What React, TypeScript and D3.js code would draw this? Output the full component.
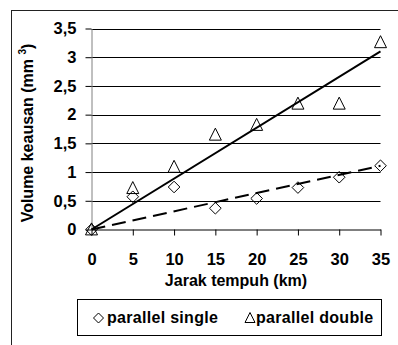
import React, { useRef, useEffect } from 'react';
import * as d3 from 'd3';

const distance = [0, 5, 10, 15, 20, 25, 30, 35];
const single = [0, 0.57, 0.74, 0.37, 0.54, 0.73, 0.91, 1.11];
const double = [0, 0.72, 1.09, 1.65, 1.82, 2.19, 2.19, 3.26];
const yTicks = [0, 0.5, 1, 1.5, 2, 2.5, 3, 3.5];
const xTicks = [0, 5, 10, 15, 20, 25, 30, 35];
const seriesNames = ['parallel single', 'parallel double'];

const FONT = '"Liberation Sans", Arial, sans-serif';

// linear trend forced through the origin, as Excel does with intercept 0
const slopeThroughOrigin = (xs: number[], ys: number[]) =>
    d3.sum(xs, (x, i) => x * ys[i]) / d3.sum(xs, x => x * x);

const App: React.FC = () => {
    const svgRef = useRef<SVGSVGElement | null>(null);

    useEffect(() => {
        const svg = d3.select(svgRef.current);
        svg.selectAll('*').remove();

        const x = d3.scaleLinear().domain([0, 35]).range([91.5, 380.5]);
        const y = d3.scaleLinear().domain([0, 3.5]).range([229.5, 28.5]);

        // outer chart frame (runs off the picture right and bottom)
        svg.append('rect')
            .attr('x', 11.5).attr('y', 10.5)
            .attr('width', 420).attr('height', 420)
            .attr('fill', 'white').attr('stroke', '#222').attr('stroke-width', 1);

        // gridlines
        svg.append('g')
            .selectAll('line')
            .data(yTicks.filter(d => d > 0))
            .join('line')
            .attr('x1', x(0)).attr('x2', x(35))
            .attr('y1', d => Math.round(y(d)) + 0.5).attr('y2', d => Math.round(y(d)) + 0.5)
            .attr('stroke', 'black');

        const fmt = (d: d3.NumberValue) => String(d).replace('.', ',');

        const yAxis = svg.append('g')
            .attr('transform', `translate(${x(0)},0)`)
            .call(d3.axisLeft(y).tickValues(yTicks).tickSize(6).tickPadding(9).tickFormat(fmt).tickSizeOuter(0));
        yAxis.select('.domain').attr('stroke', '#808080');
        yAxis.selectAll('.tick line').attr('stroke', 'black');

        const xAxis = svg.append('g')
            .attr('transform', `translate(0,${y(0)})`)
            .call(d3.axisBottom(x).tickValues(xTicks).tickSize(6).tickPadding(18).tickFormat(fmt).tickSizeOuter(0));
        xAxis.select('.domain').attr('stroke', 'black');

        svg.selectAll('.tick text')
            .attr('font-family', FONT).attr('font-size', 16.5).attr('font-weight', 'bold').attr('fill', 'black');

        // trend lines
        const sSingle = slopeThroughOrigin(distance, single);
        const sDouble = slopeThroughOrigin(distance, double);
        svg.append('line')
            .attr('x1', x(0)).attr('y1', y(0)).attr('x2', x(35)).attr('y2', y(35 * sDouble))
            .attr('stroke', 'black').attr('stroke-width', 2);
        svg.append('line')
            .attr('x1', x(0)).attr('y1', y(0)).attr('x2', x(35)).attr('y2', y(35 * sSingle))
            .attr('stroke', 'black').attr('stroke-width', 2).attr('stroke-dasharray', '14,7');

        const diamond = (cx: number, cy: number, r: number) =>
            `M${cx},${cy - r}L${cx + r},${cy}L${cx},${cy + r}L${cx - r},${cy}Z`;
        const triangle = (cx: number, cy: number, r: number) =>
            `M${cx},${cy - r * 1.1}L${cx + r},${cy + r * 0.9}L${cx - r},${cy + r * 0.9}Z`;

        svg.append('g')
            .selectAll('path')
            .data(distance)
            .join('path')
            .attr('d', (d, i) => triangle(x(d), y(double[i]), 6))
            .attr('fill', 'none').attr('stroke', 'black');

        svg.append('g')
            .selectAll('path')
            .data(distance)
            .join('path')
            .attr('d', (d, i) => diamond(x(d), y(single[i]), 5.8))
            .attr('fill', 'none').attr('stroke', 'black');

        // axis titles
        svg.append('text')
            .attr('x', (x(0) + x(35)) / 2).attr('y', 286)
            .attr('text-anchor', 'middle')
            .attr('font-family', FONT).attr('font-size', 16).attr('font-weight', 'bold')
            .text('Jarak tempuh (km)');

        const yt = svg.append('text')
            .attr('transform', 'translate(33,133) rotate(-90)')
            .attr('text-anchor', 'middle')
            .attr('font-family', FONT).attr('font-size', 16).attr('font-weight', 'bold');
        yt.append('tspan').text('Volume keausan (mm ');
        yt.append('tspan').attr('font-size', 10).attr('dy', -7).text('3');
        yt.append('tspan').attr('dy', 7).text(')');

        // legend
        const lg = svg.append('g');
        lg.append('rect')
            .attr('x', 77.5).attr('y', 299.5).attr('width', 304).attr('height', 36)
            .attr('fill', 'white').attr('stroke', 'black');
        const items = [
            { name: seriesNames[0], tx: 107, shape: diamond(98.5, 318, 5) },
            { name: seriesNames[1], tx: 256, shape: triangle(250, 318, 5) },
        ];
        items.forEach(it => {
            lg.append('path').attr('d', it.shape).attr('fill', 'none').attr('stroke', 'black');
            lg.append('text')
                .attr('x', it.tx).attr('y', 323)
                .attr('font-family', FONT).attr('font-size', 16).attr('font-weight', 'bold')
                .attr('letter-spacing', 0.3)
                .text(it.name);
        });
    }, []);

    return (
        <svg
            ref={svgRef}
            width={398}
            height={345}
            style={{ position: 'absolute', left: 0, top: 0, background: 'white' }}
        />
    );
};

export default App;
